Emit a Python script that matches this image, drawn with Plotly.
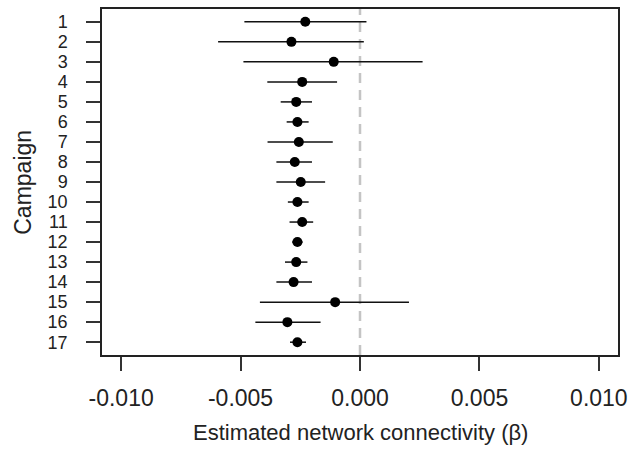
import plotly.graph_objects as go

campaigns = list(range(1, 18))
estimate = [-0.00229, -0.00287, -0.00110, -0.00242, -0.00267, -0.00262, -0.00256, -0.00273, -0.00248,
            -0.00262, -0.00242, -0.00262, -0.00267, -0.00278, -0.00104, -0.00304, -0.00262]
lower = [-0.00484, -0.00594, -0.00488, -0.00388, -0.00332, -0.00307, -0.00387, -0.00350, -0.00350,
         -0.00302, -0.00295, -0.00284, -0.00314, -0.00350, -0.00419, -0.00438, -0.00293]
upper = [0.00027, 0.00016, 0.00262, -0.00096, -0.00201, -0.00215, -0.00114, -0.00201, -0.00146,
         -0.00215, -0.00196, -0.00240, -0.00220, -0.00201, 0.00205, -0.00165, -0.00226]
x_ticks = [-0.010, -0.005, 0.000, 0.005, 0.010]
x_tick_labels = ["-0.010", "-0.005", "0.000", "0.005", "0.010"]

err_plus = [u - e for u, e in zip(upper, estimate)]
err_minus = [e - l for e, l in zip(estimate, lower)]

fig = go.Figure()
fig.add_trace(go.Scatter(
    x=estimate, y=campaigns, mode="markers",
    marker=dict(color="black", size=10, symbol="circle"),
    error_x=dict(type="data", symmetric=False, array=err_plus, arrayminus=err_minus,
                 color="#111111", thickness=1.5, width=0),
    showlegend=False,
))

fig.add_shape(type="line", xref="x", yref="paper", x0=0, x1=0, y0=0, y1=1,
              line=dict(color="#c4c4c4", width=2.5, dash="10px,7px"), layer="below")

font = "Liberation Sans, Arial, sans-serif"
fig.update_layout(
    width=634, height=451,
    margin=dict(l=102, r=11, t=7, b=96),
    paper_bgcolor="white", plot_bgcolor="white",
    font=dict(family=font, color="#222222"),
    xaxis=dict(range=[-0.0108, 0.0108], tickvals=x_ticks, ticktext=x_tick_labels,
               showgrid=False, zeroline=False, showline=True, linecolor="#222222", linewidth=1.5,
               mirror=True, ticks="outside", ticklen=14, tickwidth=1.5, tickcolor="#333333",
               tickfont=dict(size=23, family=font, color="#222222"), ticklabelstandoff=8),
    yaxis=dict(range=[17.64, 0.36], tickvals=campaigns, ticktext=[str(c) for c in campaigns],
               showgrid=False, zeroline=False, showline=True, linecolor="#222222", linewidth=1.5,
               mirror=True, ticks="outside", ticklen=14, tickwidth=1.5, tickcolor="#333333",
               tickfont=dict(size=18, family=font, color="#222222"), ticklabelstandoff=15),
    annotations=[
        dict(text="Estimated network connectivity (β)", xref="paper", yref="paper",
             x=0.5, y=-0.2227, xanchor="center", yanchor="middle", showarrow=False,
             font=dict(size=22, family=font, color="#222222")),
        dict(text="Campaign", xref="paper", yref="paper", x=-0.1536, y=0.5,
             xanchor="center", yanchor="middle", textangle=-90, showarrow=False,
             font=dict(size=23, family=font, color="#222222")),
    ],
)

fig.write_html("out.html", config={"displayModeBar": False},
               post_script="document.body.style.margin='0';")
